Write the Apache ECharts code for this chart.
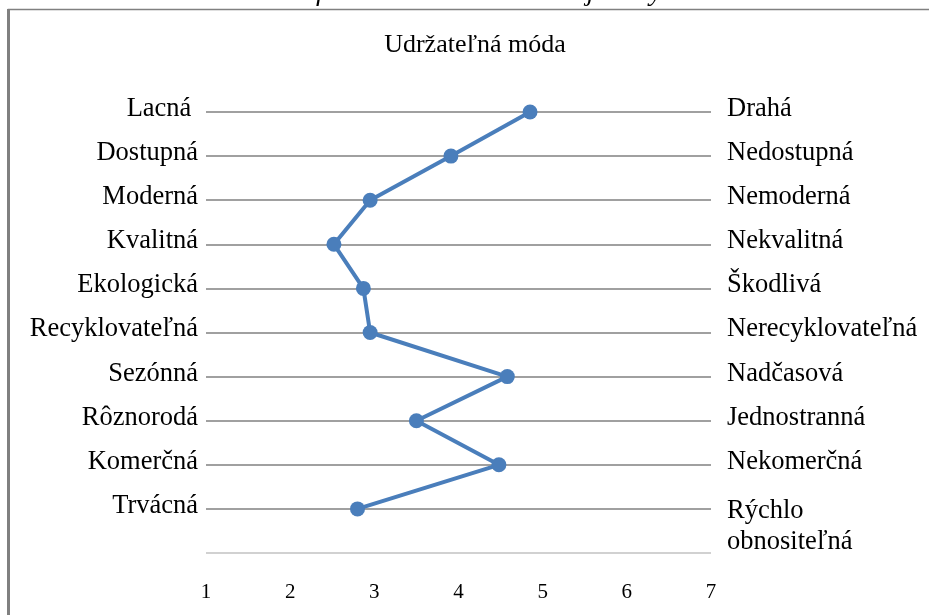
<!DOCTYPE html>
<html>
<head>
<meta charset="utf-8">
<script src="https://cdn.jsdelivr.net/npm/echarts@6/dist/echarts.min.js"></script>
<style>
  html, body { margin: 0; padding: 0; background: #fff; }
  #chart { width: 929px; height: 615px; }
</style>
</head>
<body>
<div id="chart"></div>
<script>
// Semantic differential: each row pairs two opposite adjectives on a 1–7 scale
const leftLabels = ['Lacná ', 'Dostupná', 'Moderná', 'Kvalitná', 'Ekologická',
  'Recyklovateľná', 'Sezónná', 'Rôznorodá', 'Komerčná', 'Trvácná'];
const rightLabels = ['Drahá', 'Nedostupná', 'Nemoderná', 'Nekvalitná', 'Škodlivá',
  'Nerecyklovateľná', 'Nadčasová', 'Jednostranná', 'Nekomerčná', 'Rýchlo\nobnositeľná'];
const scores = [4.85, 3.91, 2.95, 2.52, 2.87, 2.95, 4.58, 3.50, 4.48, 2.80];
const scaleTicks = [1, 2, 3, 4, 5, 6, 7];
const chartTitle = 'Udržateľná móda';
const caption = 'Graf 3 Vnímanie udržateľnej módy';

const serif = '"Liberation Serif", "DejaVu Serif", serif';

// one extra blank row gives the baseline under the last pair
const leftAxisData = leftLabels.concat(['']);
const rightAxisData = rightLabels.concat(['']);

const splitColors = leftLabels.map(function () { return '#808080'; }).concat(['#c2c2c2']);

// labels sit a little above their row line; a two-line label starts on its row
function pairFormatter(value) {
  if (!value) return '';
  if (value.indexOf('\n') < 0) return '{ln|' + value + '}';
  const parts = value.split('\n');
  return '{gap| }\n{ln|' + parts[0] + '}\n{ln|' + parts[1] + '}';
}

const labelRich = {
  gap: { lineHeight: 42, fontSize: 10 },
  ln: { lineHeight: 31, fontFamily: serif, fontSize: 26.5, color: '#000' }
};

const chart = echarts.init(document.getElementById('chart'), null, { renderer: 'canvas' });

chart.setOption({
  animation: false,
  backgroundColor: '#ffffff',
  graphic: [
    {
      type: 'text',
      left: 271,
      top: -21,
      style: { text: caption, font: 'italic 28px ' + serif, fill: '#000' }
    },
    {
      type: 'rect',
      shape: { x: 8.5, y: 9.5, width: 1000, height: 700 },
      style: { fill: null, stroke: '#808080', lineWidth: 1.5 },
      z: -1
    },
    {
      type: 'line',
      shape: { x1: 8.5, y1: 9, x2: 8.5, y2: 640 },
      style: { stroke: '#808080', lineWidth: 3 },
      z: -1
    },
    {
      type: 'text',
      x: 475,
      y: 45,
      style: {
        text: chartTitle,
        font: '26px ' + serif,
        fill: '#000',
        align: 'center',
        verticalAlign: 'middle'
      }
    }
  ],
  grid: { left: 206, right: 218, top: 112, bottom: 62, containLabel: false },
  xAxis: {
    type: 'value',
    min: scaleTicks[0],
    max: scaleTicks[scaleTicks.length - 1],
    interval: 1,
    axisLine: { show: false },
    axisTick: { show: false },
    splitLine: { show: false },
    axisLabel: {
      margin: 29,
      fontFamily: serif,
      fontSize: 21,
      color: '#000'
    }
  },
  yAxis: [
    {
      type: 'category',
      data: leftAxisData,
      inverse: true,
      boundaryGap: false,
      position: 'left',
      axisLine: { show: false },
      axisTick: { show: false },
      splitLine: { show: true, lineStyle: { color: splitColors, width: 1.5 } },
      axisLabel: {
        margin: 8,
        fontFamily: serif,
        fontSize: 26.5,
        color: '#000',
        padding: [0, 0, 6, 0],
        formatter: pairFormatter,
        rich: labelRich
      }
    },
    {
      type: 'category',
      data: rightAxisData,
      inverse: true,
      boundaryGap: false,
      position: 'right',
      axisLine: { show: false },
      axisTick: { show: false },
      splitLine: { show: false },
      axisLabel: {
        margin: 16,
        fontFamily: serif,
        fontSize: 26.5,
        color: '#000',
        padding: [0, 0, 6, 0],
        formatter: pairFormatter,
        rich: labelRich
      }
    }
  ],
  series: [
    {
      type: 'line',
      yAxisIndex: 0,
      data: scores.map(function (v, i) { return [v, leftLabels[i]]; }),
      symbol: 'circle',
      symbolSize: 15,
      lineStyle: { color: '#4a7ebb', width: 4 },
      itemStyle: { color: '#4a7ebb' },
      z: 5
    }
  ]
});
</script>
</body>
</html>
